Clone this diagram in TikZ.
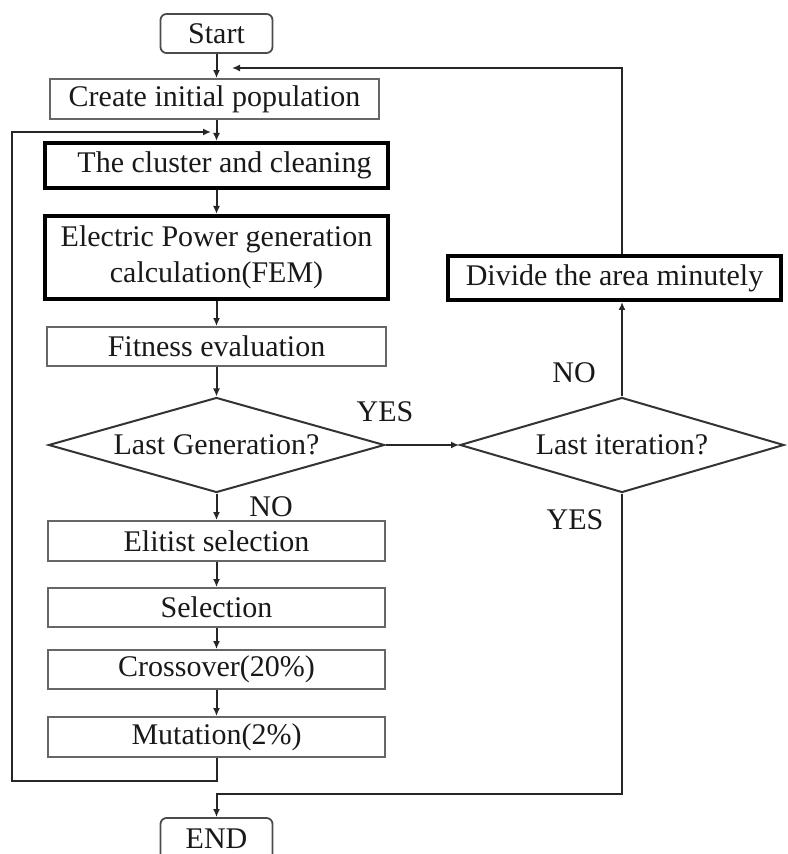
\documentclass[tikz,border=0pt]{standalone}
\usepackage{fontspec}
\setmainfont{Liberation Serif}
\usetikzlibrary{shapes.geometric,arrows.meta}
\begin{document}
\begin{tikzpicture}[x=0.5pt,y=-0.5pt,
  every node/.style={font=\fontsize{15}{18}\selectfont, inner sep=0pt, text=black!90},
  thinbox/.style={draw=black!60, line width=0.9pt, minimum height=20pt},
  thickbox/.style={draw=black, line width=2pt},
  roundbox/.style={draw=black!70, line width=0.9pt, rounded corners=3pt, minimum width=56pt},
  dia/.style={diamond, draw=black!80, line width=1pt, aspect=3.5},
  conn/.style={draw=black!85, line width=1pt},
  arr/.style={conn, -{Latex[length=4pt,width=3.5pt]}},
  lbl/.style={}]
\useasboundingbox (0,0) rectangle (787,854);
% nodes
\node[roundbox, minimum height=19.5pt] (start) at (216.5,33.5) {Start};
\node[thinbox, minimum width=164.5pt] (create) at (214.5,99) {Create initial population};
\node[thickbox, minimum width=171.5pt, minimum height=22.5pt] (cluster) at (216.5,165.5) {\hspace{8pt}The cluster and cleaning};
\node[thickbox, minimum width=171.5pt, minimum height=41.5pt, align=center] (elec) at (216.5,257.5) {Electric Power generation\\calculation(FEM)};
\node[thinbox, minimum width=169.5pt, minimum height=19.5pt] (fit) at (216.5,346.5) {Fitness evaluation};
\node[dia, minimum width=168pt, minimum height=47.5pt] (gen) at (216.5,445) {Last Generation?};
\node[dia, minimum width=162pt, minimum height=47.5pt] (iter) at (622,445) {Last iteration?};
\node[thickbox, minimum width=166.5pt, minimum height=22pt] (divide) at (614.5,278) {Divide the area minutely};
\node[thinbox, minimum width=168.5pt] (elit) at (216.5,541) {Elitist selection};
\node[thinbox, minimum width=168.5pt, minimum height=19.5pt] (sel) at (216.5,607.5) {Selection};
\node[thinbox, minimum width=168.5pt, minimum height=19.5pt] (cross) at (216.5,669.5) {Crossover(20\%)};
\node[thinbox, minimum width=168.5pt] (mut) at (216.5,737) {Mutation(2\%)};
\node[roundbox, minimum height=21pt] (end) at (216.5,839) {END};
% labels
\node[lbl] (yes1) at (385,412) {YES};
\node[lbl] (no1) at (271,507) {NO};
\node[lbl] (no2) at (574,373) {NO};
\node[lbl] (yes2) at (575,520) {YES};
% coordinates
\coordinate (tt) at (232,68);
\coordinate (lb) at (12,781);
\coordinate (lt) at (211,132);
\coordinate (bj) at (216.5,794);
% connectors
\draw[arr] (start.south) -- (create.north -| start.south);
\draw[arr] (create.south -| cluster.north) -- (cluster.north);
\draw[arr] (cluster.south) -- (elec.north);
\draw[arr] (elec.south) -- (fit.north);
\draw[arr] (fit.south) -- (gen.north);
\draw[arr] (gen.south) -- (elit.north);
\draw[arr] (elit.south) -- (sel.north);
\draw[arr] (sel.south) -- (cross.north);
\draw[arr] (cross.south) -- (mut.north);
\draw[arr] (mut.south) |- (lb) |- (lt);
\draw[arr] (gen.east) -- (iter.west);
\draw[arr] (iter.north) -- (iter.north |- divide.south);
\draw[arr] (iter.north |- divide.north) |- (tt);
\draw[arr] (iter.south) |- (bj) -- (end.north);
\end{tikzpicture}
\end{document}
